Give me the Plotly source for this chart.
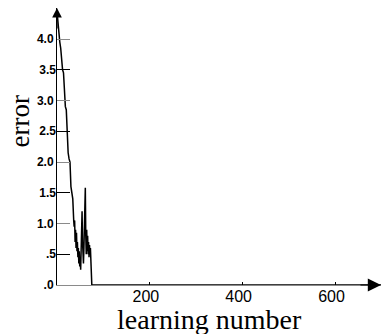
import plotly.graph_objects as go

# learning number (x) and error (y)
learning = [0, 2, 4, 6, 8, 10, 12, 14, 16, 18, 20, 22, 24, 26, 28, 30, 32, 34, 36,
            37, 38, 39, 40, 41, 42, 43, 44, 45, 46, 47, 48, 49, 50, 51, 52, 53, 54,
            55, 56, 57, 58, 59, 60, 61, 62, 63, 64, 65, 66, 67, 68, 69, 70, 71, 72,
            73, 74, 75, 698]
error = [4.45, 4.25, 4.05, 3.95, 3.85, 3.6, 3.5, 3.45, 3.0, 2.9, 2.85, 2.3, 2.15, 2.05,
         2.0, 1.6, 1.45, 1.4, 1.05,
         0.95, 1.05, 0.7, 0.9, 0.6, 0.85, 0.55, 0.7, 0.45, 0.6, 0.35, 0.55, 0.3, 0.45,
         0.25, 0.5, 0.9, 1.2, 0.7, 0.45, 0.35, 0.6, 1.0, 1.4, 1.58, 0.8, 0.5, 0.9, 0.55,
         0.8, 0.5, 0.7, 0.45, 0.65, 0.5, 0.6, 0.3, 0.05, 0.0, 0.0]

x_ticks = [200, 400, 600]
x_ticklabels = ["200", "400", "600"]
y_major = [0, 1, 2, 3, 4]
y_major_labels = [".0", "1.0", "2.0", "3.0", "4.0"]
y_half = [0.5, 1.5, 2.5, 3.5]
y_half_labels = [".5", "1.5", "2.5", "3.5"]

X_MAX = 698
Y_MAX = 4.504

fig = go.Figure()
fig.add_trace(go.Scatter(x=learning, y=error, mode="lines",
                         line=dict(color="black", width=1.5),
                         showlegend=False, hoverinfo="skip"))
# invisible trace to activate y2
fig.add_trace(go.Scatter(x=[0], y=[0], yaxis="y2", mode="markers",
                         marker=dict(opacity=0), showlegend=False, hoverinfo="skip"))

tickfont_y = dict(family="Arial, Liberation Sans, sans-serif", size=12, color="black")

fig.update_layout(
    width=382, height=334,
    margin=dict(l=57, r=1, t=8, b=49),
    paper_bgcolor="white", plot_bgcolor="white",
    xaxis=dict(range=[0, X_MAX], showgrid=False, zeroline=False,
               showline=True, linecolor="#8a8a8a", linewidth=1,
               tickvals=x_ticks, ticktext=x_ticklabels,
               ticks="inside", ticklen=3, tickcolor="black", tickwidth=1,
               ticklabelshift=-4, ticklabelstandoff=-3,
               tickfont=dict(family="Arial, Liberation Sans, sans-serif", size=16, color="black")),
    yaxis=dict(range=[0, Y_MAX], showgrid=False, zeroline=False,
               showline=True, linecolor="black", linewidth=1,
               tickvals=y_major, ticktext=y_major_labels,
               ticks="inside", ticklen=13, tickcolor="#8a8a8a", tickwidth=1,
               tickfont=dict(**tickfont_y, weight="bold")),
    yaxis2=dict(range=[0, Y_MAX], overlaying="y", anchor="x", side="left",
                showgrid=False, zeroline=False, showline=False,
                tickvals=y_half, ticktext=y_half_labels,
                ticks="inside", ticklen=13, tickcolor="black", tickwidth=1,
                tickfont=dict(**tickfont_y, weight="bold")),
    annotations=[
        dict(x=X_MAX, y=0, xref="x", yref="y", ax=-22, ay=0, axref="pixel", ayref="pixel",
             showarrow=True, arrowhead=2, arrowsize=2.2, arrowwidth=1.2, arrowcolor="black",
             text=""),
        dict(x=0, y=Y_MAX, xref="x", yref="y", ax=0, ay=22, axref="pixel", ayref="pixel",
             showarrow=True, arrowhead=2, arrowsize=1.6, arrowwidth=1.2, arrowcolor="black",
             text=""),
        dict(x=0.4717, y=-0.126, xref="paper", yref="paper", xanchor="center", yanchor="middle",
             text="learning number", showarrow=False,
             font=dict(family="Liberation Serif, Times New Roman, serif", size=28, color="black")),
        dict(x=-0.113, y=0.592, xref="paper", yref="paper", xanchor="center", yanchor="middle",
             text="error", showarrow=False, textangle=-90,
             font=dict(family="Liberation Serif, Times New Roman, serif", size=27, color="black")),
    ],
)

fig.write_html("out.html", config={"displayModeBar": False},
               post_script="document.body.style.margin='0px';document.body.style.overflow='hidden';")
